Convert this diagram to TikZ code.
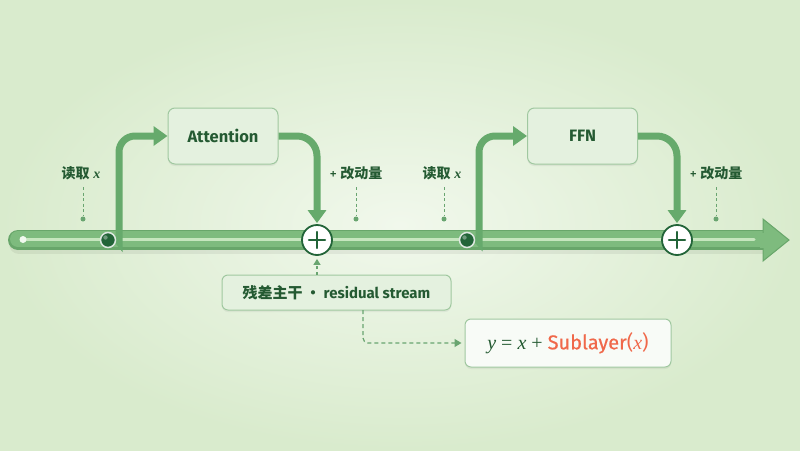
\documentclass[tikz,border=0pt]{standalone}
\usepackage{fontspec}
\setmainfont{Fira Sans}
\newfontfamily\cjk{Noto Sans CJK SC}
\newfontfamily\medium[FakeBold=0.5]{Fira Sans}
\newfontfamily\serif{Liberation Serif}
\usetikzlibrary{arrows.meta,shadows}
\definecolor{bgin}{RGB}{241,248,236}
\definecolor{bgout}{RGB}{217,235,205}
\definecolor{barc}{RGB}{126,187,126}
\definecolor{baredge}{RGB}{104,166,106}
\definecolor{barlite}{RGB}{198,230,190}
\definecolor{flow}{RGB}{102,170,108}
\definecolor{dk}{RGB}{34,100,56}
\definecolor{txt}{RGB}{36,90,50}
\definecolor{boxfill}{RGB}{228,241,223}
\definecolor{boxdraw}{RGB}{160,200,160}
\definecolor{dashc}{RGB}{105,165,112}
\definecolor{orng}{RGB}{240,104,74}
\newcommand{\vx}{{\serif\bfseries\itshape x}}
\begin{document}
\begin{tikzpicture}[x=1pt,y=-1pt,
  blk/.style={draw=boxdraw, line width=1, fill=boxfill, rounded corners=7,
    minimum width=110, minimum height=56, inner sep=0, text=txt,
    font=\fontsize{16.5}{18}\selectfont\bfseries,
    drop shadow={opacity=0.12, shadow xshift=0pt, shadow yshift=-2pt}},
  resb/.style={draw=boxdraw, line width=1, fill=boxfill, rounded corners=6,
    minimum width=229, minimum height=35, inner sep=0, text=txt,
    drop shadow={opacity=0.10, shadow xshift=0pt, shadow yshift=-2pt}},
  formb/.style={draw=boxdraw, line width=1, fill=white!75!boxfill, rounded corners=6,
    minimum width=206, minimum height=48, inner sep=0, text=txt,
    drop shadow={opacity=0.10, shadow xshift=0pt, shadow yshift=-2pt}},
  rdot/.style={circle, fill=dk, draw=white!85!dk, line width=1.5, minimum size=15, inner sep=0},
  plusc/.style={circle, fill=white, draw=dk, line width=1.8, minimum size=30, inner sep=0},
  flowline/.style={flow, line width=7},
  fhead/.style={-{Triangle[length=14pt,width=19pt]}},
  lab/.style={text=txt, inner sep=0, font=\fontsize{14}{16}\selectfont},
  guide/.style={dashc, line width=1, dash pattern=on 3pt off 2.5pt},
  gdot/.style={circle, fill=dashc, minimum size=5, inner sep=0},
]
\useasboundingbox (0,0) rectangle (800,450);
\shade[inner color=bgin, outer color=bgout] (0,0) rectangle (800,450);

% main residual bar
\coordinate (bs) at (18,240);
\coordinate (be) at (764,240);
\draw[black, opacity=0.06, line width=20, line cap=round] (19,244) -- (762,244);
\fill[baredge] (bs) circle (10);
\draw[baredge, line width=20] (bs) -- (be);
\fill[barc] (18,239) circle (8);
\draw[barc, line width=16] (18,239) -- (764,239);
\fill[barc, draw=baredge, line width=1] (763,219) -- (789,240) -- (763,261) -- cycle;
\draw[barc, line width=15] (760,240) -- (765,240);
\draw[barlite, line width=3, line cap=round] (26,239) -- (754,239);
\fill[white!75!barlite] (23,239.5) circle (3.5);

% boxes
\node[blk] (att) at (223,136) {Attention};
\node[blk] (ffn) at (582.5,136) {FFN};

% read dots (coordinates first)
\coordinate (r1c) at (108,240);
\coordinate (r2c) at (467,240);

% branches
\draw[flowline, rounded corners=16, fhead] (r1c) .. controls (119,240) .. (119,226) -- (119,136) -- (att.west);
\draw[flowline, rounded corners=16, fhead] (r2c) .. controls (479,240) .. (479,226) -- (479,136) -- (ffn.west);

\node[plusc] (p1) at (317,240) {};
\node[plusc] (p2) at (677,240) {};
\draw[flowline, rounded corners=20, {Triangle[length=13pt,width=18pt]}-] (p1.north) ++(0,-1) -- (317,136) -- (att.east);
\draw[flowline, rounded corners=20, {Triangle[length=13pt,width=18pt]}-] (p2.north) ++(0,-1) -- (677,136) -- (ffn.east);

\node[rdot] (r1) at (r1c) {};
\node[rdot] (r2) at (r2c) {};
\fill[white, opacity=0.35] (105.5,237.5) circle (2.2);
\fill[white, opacity=0.35] (464.5,237.5) circle (2.2);

\foreach \p in {p1,p2}{
  \draw[dk, line width=2.2, line cap=round] ([xshift=-8]\p.center) -- ([xshift=8]\p.center);
  \draw[dk, line width=2.2, line cap=round] ([yshift=-8]\p.center) -- ([yshift=8]\p.center);
}

% labels with guides
\node[lab] (l1) at (81,173) {{\cjk\bfseries 读取} \vx};
\node[lab] (l2) at (442,173) {{\cjk\bfseries 读取} \vx};
\node[lab] (l3) at (356,173) {{\medium +} {\cjk\bfseries 改动量}};
\node[lab] (l4) at (716,173) {{\medium +} {\cjk\bfseries 改动量}};
\foreach \x/\n in {83/a,444/b,356/c,716/d}{
  \coordinate (g\n1) at (\x,187);
  \node[gdot] (g\n2) at (\x,219) {};
  \draw[guide] (g\n1) -- (g\n2);
}

% residual label and formula
\node[resb] (res) at (336.5,292.5) {\fontsize{15}{17}\selectfont{\cjk\bfseries 残差主干}\hspace{3pt}{\cjk\bfseries·}\hspace{3pt}{\bfseries residual stream}};
\node[formb] (form) at (568,343) {\fontsize{20}{22}\selectfont{\serif\itshape y}\hspace{5pt}{\serif =}\hspace{5pt}{\serif\itshape x}\hspace{5pt}{\serif +}\hspace{5pt}\textcolor{orng}{{\medium Sublayer}({\serif\itshape x})}};

\draw[dashc, line width=1.2, dash pattern=on 3pt off 2.5pt, -{Triangle[length=6pt,width=7pt]}, shorten >=3] (p1 |- res.north) -- (p1.south);
\coordinate (c1) at (363,310);
\draw[dashc, line width=1.2, dash pattern=on 4pt off 3pt, rounded corners=5, -{Triangle[length=7pt,width=8pt]}, shorten >=3] (c1) |- (form.west);
\end{tikzpicture}
\end{document}
